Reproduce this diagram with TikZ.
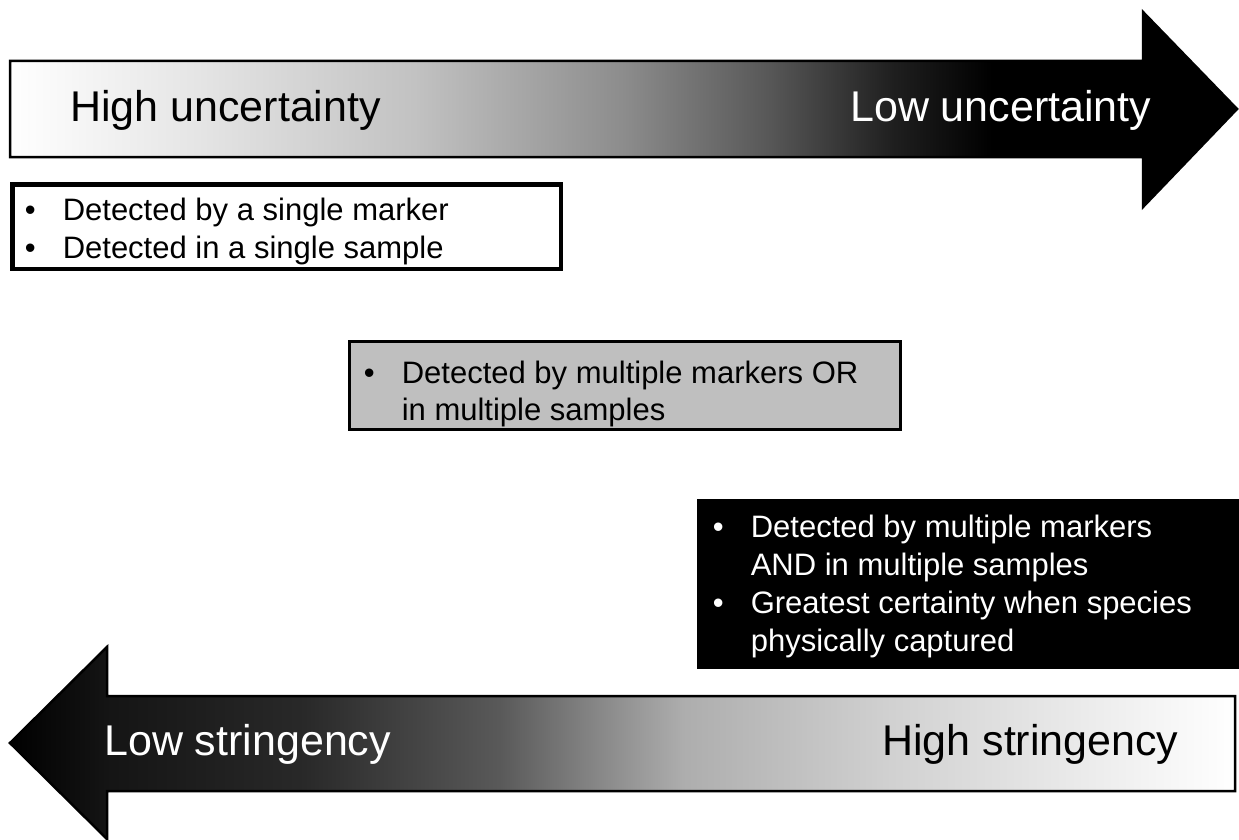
\documentclass[tikz,border=0pt]{standalone}
\usepackage{fontspec}
\setmainfont{Liberation Sans}

% Horizontal grey ramps (the path's bounding box maps onto 25bp..75bp)
\pgfdeclarehorizontalshading{lighttodark}{100bp}{%
  color(0bp)=(white); color(25bp)=(white);
  color(32.5bp)=(black!10); color(41.5bp)=(black!24);
  color(50bp)=(black!45); color(56bp)=(black!66);
  color(61bp)=(black!88); color(65bp)=(black);
  color(100bp)=(black)}
\pgfdeclarehorizontalshading{darktolight}{100bp}{%
  color(0bp)=(black); color(25bp)=(black);
  color(29bp)=(black!92); color(37bp)=(black!84);
  color(45bp)=(black!65); color(49bp)=(black!47);
  color(52.5bp)=(black!32); color(61bp)=(black!18);
  color(69.5bp)=(black!7); color(75bp)=(white);
  color(100bp)=(white)}

\newcommand\bulletpara[1]{\par\hangindent=38pt\hangafter=1\noindent
  \makebox[38pt][l]{\textbullet}#1}

\tikzset{
  bigarrow/.style={draw=black, line width=2.5pt, line join=miter},
  biglabel/.style={anchor=base west, inner sep=0pt, font=\fontsize{43}{50}\selectfont},
  panel/.style={anchor=center, inner sep=0pt},
  listtext/.style={anchor=base west, inner sep=0pt},
}

\begin{document}
\begin{tikzpicture}[x=1pt, y=-1pt]
\useasboundingbox (0,0) rectangle (1239,840);

% upper arrow: uncertainty, pointing right
\coordinate (ua0) at (10,61);
\coordinate (ua1) at (1143,61);
\coordinate (ua2) at (1143,12);
\coordinate (ua3) at (1237,109);
\coordinate (ua4) at (1143,207);
\coordinate (ua5) at (1143,157);
\coordinate (ua6) at (10,157);
\path[bigarrow, shading=lighttodark]
  (ua0) -- (ua1) -- (ua2) -- (ua3) -- (ua4) -- (ua5) -- (ua6) -- cycle;
\node[biglabel] (highunc) at (70,122) {High uncertainty};
\node[biglabel, text=white] (lowunc) at (850,122) {Low uncertainty};

% lower arrow: stringency, pointing left
\coordinate (la0) at (1235,696);
\coordinate (la1) at (107,696);
\coordinate (la2) at (107,647);
\coordinate (la3) at (10,743);
\coordinate (la4) at (107,839);
\coordinate (la5) at (107,791);
\coordinate (la6) at (1235,791);
\path[bigarrow, shading=darktolight]
  (la0) -- (la1) -- (la2) -- (la3) -- (la4) -- (la5) -- (la6) -- cycle;
\node[biglabel, text=white] (lowstr) at (104,755) {Low stringency};
\node[biglabel] (highstr) at (882,755) {High stringency};

% evidence panels
\node[panel, draw=black, line width=4.5pt, fill=white,
      minimum width=548.5pt, minimum height=84.5pt] (single) at (286.5,226.5) {};
\node[listtext] (singletext) at (24.6,220) {\parbox[t]{520pt}{%
  \fontsize{31}{38}\selectfont
  \bulletpara{Detected by a single marker}%
  \bulletpara{Detected in a single sample}}};

\node[panel, draw=black, line width=3pt, fill=black!25,
      minimum width=551pt, minimum height=88pt] (either) at (625,385.5) {};
\node[listtext] (eithertext) at (363.6,383) {\parbox[t]{520pt}{%
  \fontsize{31}{37}\selectfont
  \bulletpara{Detected by multiple markers OR\newline in multiple samples}}};

\node[panel, fill=black,
      minimum width=542pt, minimum height=170pt] (both) at (968,584) {};
\node[listtext, text=white] (bothtext) at (712.6,537) {\parbox[t]{520pt}{%
  \fontsize{31}{38.3}\selectfont
  \bulletpara{Detected by multiple markers\newline AND in multiple samples}%
  \bulletpara{Greatest certainty when species\newline physically captured}}};
\end{tikzpicture}
\end{document}
